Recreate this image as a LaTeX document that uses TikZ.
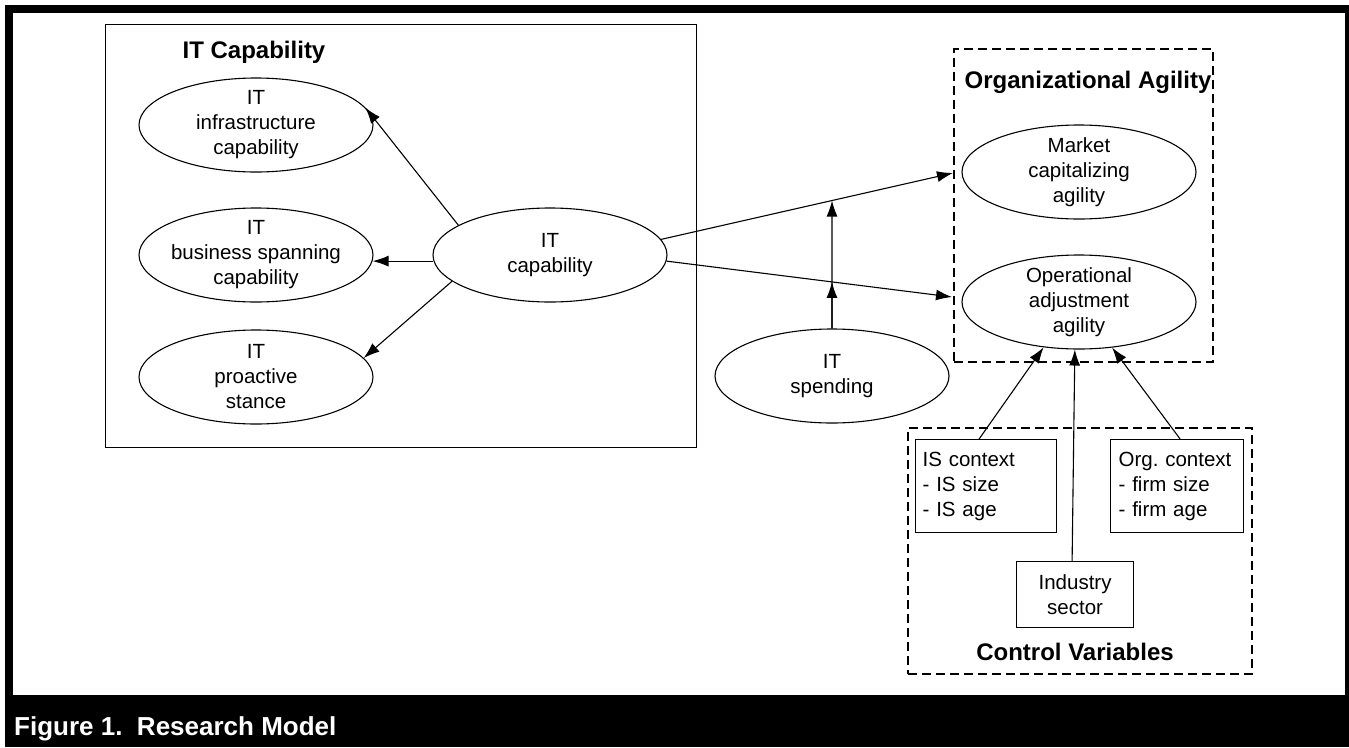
\documentclass[tikz,border=0pt]{standalone}
\usepackage{fontspec}
\setmainfont{Liberation Sans}
\usetikzlibrary{shapes.geometric,arrows.meta,calc}
\frenchspacing
\begin{document}
\begin{tikzpicture}[x=1pt,y=-1pt,
  ell/.style={ellipse,draw,line width=1.1pt,minimum width=234pt,minimum height=94pt,inner sep=0pt},
  lbl/.style={font=\fontsize{20.5}{25}\selectfont,align=center,inner sep=0pt},
  arr/.style={line width=1.1pt,-{Latex[length=16pt,width=11pt]}},
  dbox/.style={draw,line width=2pt,dash pattern=on 9pt off 5pt,inner sep=0pt,anchor=north west},
  sbox/.style={draw,line width=1.2pt,anchor=north west,font=\fontsize{20.5}{25}\selectfont,inner ysep=0pt},
  title/.style={font=\bfseries\fontsize{24}{28}\selectfont,inner sep=0pt,anchor=base}]
\useasboundingbox (0,0) rectangle (1349,747);
\fill[white] (0,0) rectangle (1349,747);
\fill[black] (5,5) rectangle (1349,747);
\fill[white] (13,13) rectangle (1345,695);
\node[anchor=base west,inner sep=0pt,text=white,font=\bfseries\fontsize{26}{30}\selectfont] (caption) at (14,735) {Figure 1.\ \ Research Model};

% IT Capability group
\node[draw,line width=1.2pt,minimum width=591pt,minimum height=423pt,inner sep=0pt,anchor=north west] (capbox) at (105,24) {};
\node[title] (t1) at (254,58) {IT Capability};
\node[ell,label={[lbl]center:{IT\\infrastructure\\capability}}] (infra) at (256,125) {};
\node[ell,label={[lbl]center:{IT\\business spanning\\capability}}] (bus) at (256,255) {};
\node[ell,label={[lbl]center:{IT\\proactive\\stance}}] (pro) at (256,377) {};
\node[ell,label={[lbl]center:{IT\\capability}}] (cap) at (550,255) {};

% Organizational agility
\node[dbox,minimum width=259pt,minimum height=313pt] (orgbox) at (953,48) {};
\node[title] (t2) at (1088,88) {Organizational Agility};
\node[ell,label={[lbl]center:{Market\\capitalizing\\agility}}] (mkt) at (1079,172) {};
\node[ell,label={[lbl]center:{Operational\\adjustment\\agility}}] (ops) at (1079,302) {};

% IT spending
\node[ell,label={[lbl]center:{IT\\spending}}] (spend) at (832,376) {};

% Control variables
\node[dbox,minimum width=344pt,minimum height=246pt] (ctrl) at (907,427) {};
\node[title] (t3) at (1075,660) {Control Variables};
\node[sbox,text width=127pt,inner xsep=7pt,minimum height=93pt,align=left] (isb) at (915,439) {IS context\\- IS size\\- IS age};
\node[sbox,text width=117pt,inner xsep=8pt,minimum height=93pt,align=left] (orgb) at (1110,439) {Org. context\\- firm size\\- firm age};
\node[sbox,minimum width=117pt,minimum height=66pt,inner xsep=0pt,align=center] (ind) at (1016,561) {Industry\\sector};

% connectors
\coordinate (m1) at (953,173);
\coordinate (m2) at (952,297);
\draw[arr] (cap.162) -- (infra.9);
\draw[arr] (cap.183) -- (bus.357);
\draw[arr] (cap.195) -- (pro.10);
\draw[arr] (cap.8) -- (m1);
\draw[arr] (cap.357) -- (m2);
\coordinate (i1) at (intersection cs: first line={(spend.north)--(spend.south)}, second line={(cap.8)--(m1)});
\coordinate (i2) at (intersection cs: first line={(spend.north)--(spend.south)}, second line={(cap.357)--(m2)});
\draw[arr] (spend.north) -- (i1);
\draw[arr] (spend.north) -- (i2);
\draw[arr] ($(isb.north)+(-7,0)$) -- (ops.232);
\draw[arr] ($(ind.north)+(-3,0)$) -- (ops.265);
\draw[arr] ($(orgb.north)+(3,0)$) -- (ops.306);
\end{tikzpicture}
\end{document}
